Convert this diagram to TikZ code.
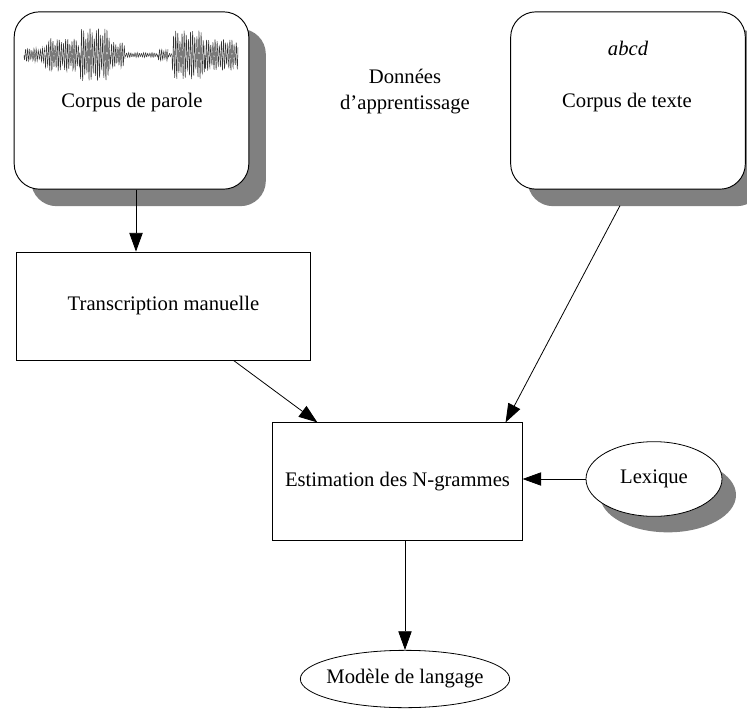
\documentclass[tikz,border=0pt]{standalone}
\usepackage{fontspec}
\setmainfont{Liberation Serif}
\usetikzlibrary{arrows.meta,shapes.geometric,shadows}
\definecolor{shadowgray}{RGB}{128,128,128}
\begin{document}
\begin{tikzpicture}[x=0.75pt,y=-0.75pt,
  font=\fontsize{15.5}{18}\selectfont,
  arr/.style={-{Triangle[length=14pt,width=10pt]}, line width=0.6pt},
  corpus/.style={draw, line width=0.7pt, fill=white, rounded corners=19pt,
    minimum width=176pt, minimum height=133pt, inner sep=0pt,
    general shadow={shadow xshift=12.75pt, shadow yshift=-12.75pt, fill=shadowgray, rounded corners=19pt}},
  procbox/.style={draw, line width=0.6pt, fill=white, inner sep=0pt},
  oval/.style={draw, ellipse, line width=0.6pt, fill=white, inner sep=0pt},
  wave/.style={line width=0.35pt, black!80}]
\useasboundingbox (0,0) rectangle (747,711);

% training corpora
\node[corpus] (parole) at (131.5,100.5) {};
\node[corpus] (texte) at (628,100.5) {};

% waveform
\foreach \a/\b/\amp/\n in {24/45/7/60, 45/80/17/110, 80/110/27/100, 110/125/13/50, 125/158/2.5/90, 158/168/6/30, 168/172/2/10, 172/205/25/110, 205/238/16/110}
  \draw[wave] plot[domain=\a:\b, samples=\n] (\x, {55 + \amp*(0.55+0.45*abs(sin(\x*23)))*sin((\x-\a)*170)});

\node (tparole) at (132,103) {Corpus de parole};
\node (abcd) at (628,48) {\itshape abcd};
\node (ttexte) at (627,103) {Corpus de texte};
\node[align=center, font=\fontsize{15.5}{20}\selectfont] (donnees) at (405,91.5) {Données\\d'apprentissage};

% processing boxes
\node[procbox, minimum width=221pt, minimum height=81pt] (trans) at (163.5,306) {Transcription manuelle};
\node[procbox, minimum width=187pt, minimum height=88pt] (est) at (397.5,481.5) {Estimation des N-grammes};

% ellipses
\node[oval, minimum width=102pt, minimum height=56pt, inner xsep=-4pt,
  general shadow={shadow xshift=10.5pt, shadow yshift=-12pt, fill=shadowgray}] (lex) at (654,479) {Lexique};
\node[oval, minimum width=157pt, minimum height=43pt, inner xsep=-8pt] (mod) at (405,679) {Modèle de langage};

% connectors
\coordinate (c1) at (136,0);
\draw[arr] (parole.south -| c1) -- (trans.north -| c1);
\draw[arr] ([xshift=52.5pt]trans.south) -- ([xshift=33.75pt]est.north west);
\draw[arr] ([xshift=-6pt,yshift=-12pt]texte.south) -- ([xshift=-12.75pt]est.north east);
\draw[arr] (lex.west) -- (est.east |- lex.west);
\draw[arr] (est.south -| mod.north) -- (mod.north);
\end{tikzpicture}
\end{document}
